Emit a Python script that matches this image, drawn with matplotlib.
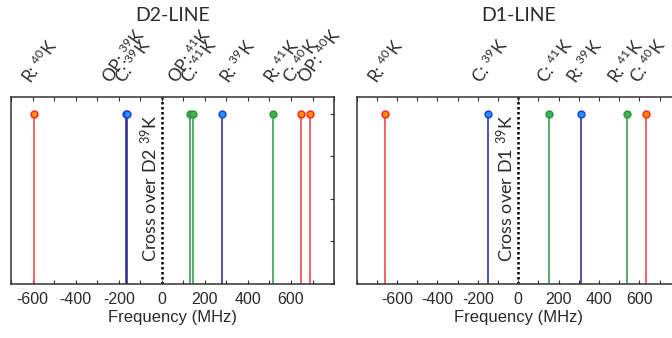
import matplotlib
matplotlib.use("Agg")
import matplotlib.pyplot as plt

# ---- data ----
d2_freq = [-592, -168, -162, 132, 146, 281, 516, 647, 690]
d2_iso = ["40", "39", "39", "41", "41", "39", "41", "40", "40"]
d2_kind = ["R", "OP", "C", "OP", "C", "R", "R", "C", "OP"]

d1_freq = [-658, -151, 152, 311, 539, 632]
d1_iso = ["40", "39", "41", "39", "41", "40"]
d1_kind = ["R", "C", "C", "R", "R", "C"]

tick_vals = [-600, -400, -200, 0, 200, 400, 600]

# label nudges in pixels (layout only)
d2_dx = [-3, -14, -3, -13, -3, 7, 0, -9, -3]
d1_dx = [-8, -6, -3, -5, -10, -6]

line_col = {"39": "#23238f", "40": "#f03c3c", "41": "#2f9440"}
face_col = {"39": "#1e90ff", "40": "#ff8c00", "41": "#3cb44b"}
edge_col = {"39": "#1f3fd0", "40": "#ff2020", "41": "#2f9440"}

plt.rcParams["axes.unicode_minus"] = False
plt.rcParams["mathtext.fontset"] = "custom"
plt.rcParams["mathtext.rm"] = "Lato"
LBL = "Lato"
TCK = "Liberation Sans"
PX = 0.72  # points per pixel at dpi 100
TXT = "#2a2a2a"

fig = plt.figure(figsize=(6.72, 3.38), dpi=100)


def panel(x0, xlim, freqs, isos, kinds, dxs, title, cross):
    ax = fig.add_axes([x0, 0.160, 0.4807, 0.5533])
    for f, iso, k, dx in zip(freqs, isos, kinds, dxs):
        ax.vlines(f, 0, 1, color=line_col[iso], lw=1.1, zorder=2)
        ax.plot(f, 1, "o", ms=5, mfc=face_col[iso], mec=edge_col[iso], mew=1, zorder=3)
        ax.annotate(k + r": $\mathregular{^{" + iso + "}}$K", xy=(f, 1),
                    xycoords=("data", "axes fraction"),
                    xytext=(dx * PX, 12 * PX), textcoords="offset points",
                    rotation=55, rotation_mode="anchor", ha="left", va="baseline",
                    fontsize=12.5, family=LBL, color=TXT)
    ax.axvline(0, color="black", ls=(0, (1, 1)), lw=1.8, zorder=1)
    ax.annotate("Cross over " + cross + r" $\mathregular{^{39}}$K", xy=(0, 0),
                xycoords=("data", "axes fraction"), xytext=(-2 * PX, 22 * PX),
                textcoords="offset points", rotation=90, ha="right", va="bottom",
                fontsize=13, family=LBL, color=TXT)
    ax.set_xlim(*xlim)
    ax.set_ylim(0, 1.1)
    ax.set_xticks(tick_vals)
    ax.set_xticklabels([str(v) for v in tick_vals], family=TCK, fontsize=11.5, color=TXT)
    ax.set_xticks(range(xlim[0], xlim[1] + 1, 100), minor=True)
    ax.tick_params(axis="x", which="both", direction="in", top=True, bottom=True,
                   length=3, width=0.8, pad=6, color="#333333")
    ax.yaxis.tick_right()
    ax.set_yticks([0, 0.25, 0.5, 0.75, 1.0])
    ax.tick_params(axis="y", direction="in", length=3, width=0.8, labelright=False,
                   color="#333333")
    for s in ax.spines.values():
        s.set_color("#333333")
        s.set_linewidth(1.1)
    ax.set_xlabel("Frequency (MHz)", family=TCK, fontsize=12, color=TXT, labelpad=2)
    fig.text(x0 + 0.4807 / 2, 0.955, title, ha="center", va="center",
             fontsize=14, family=LBL, color=TXT)
    return ax


panel(0.0164, (-700, 800), d2_freq, d2_iso, d2_kind, d2_dx, "D2-LINE", "D2")
panel(0.5308, (-800, 800), d1_freq, d1_iso, d1_kind, d1_dx, "D1-LINE", "D1")

fig.savefig("out.png", dpi=100)
